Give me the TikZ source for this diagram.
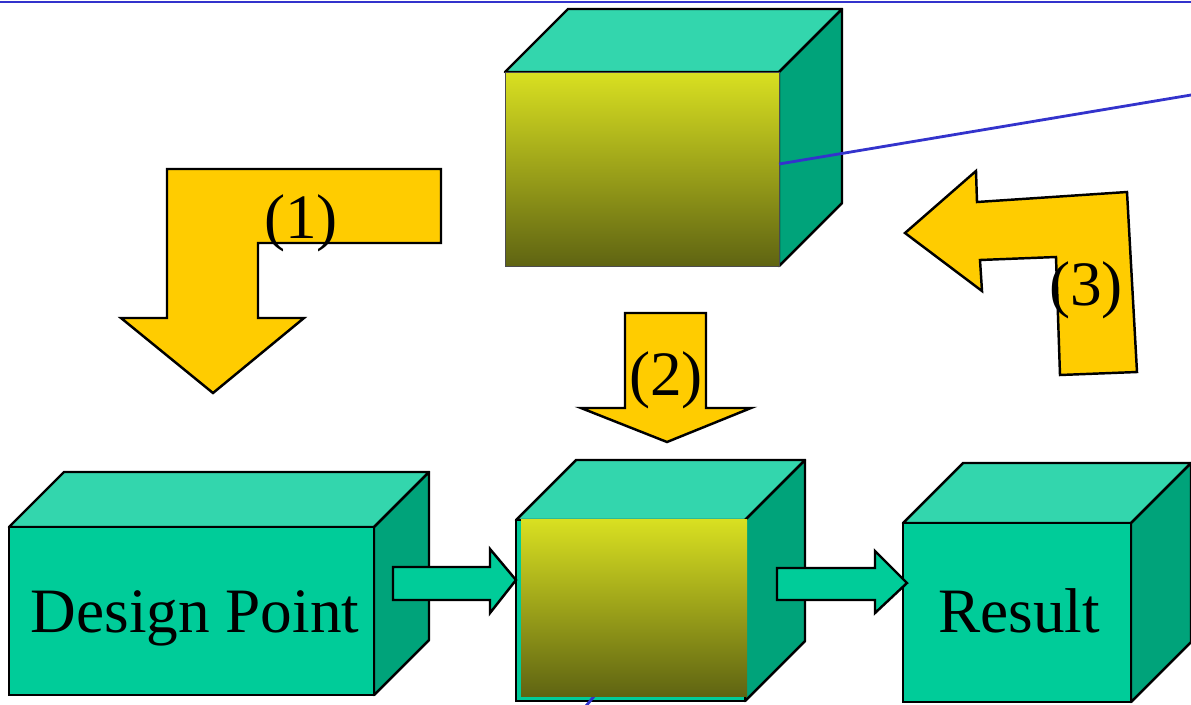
\documentclass[tikz,border=0pt]{standalone}
\usepackage{fontspec}
\setmainfont{Liberation Serif}
\usetikzlibrary{positioning}

\definecolor{tealfront}{HTML}{00CC99}
\definecolor{tealtop}{HTML}{33D6AD}
\definecolor{tealside}{HTML}{00A37A}
\definecolor{gold}{HTML}{FFCC00}
\definecolor{lineblue}{HTML}{3333CC}
\definecolor{chiptop}{HTML}{D9E021}
\definecolor{chipmid}{HTML}{B6BD24}
\definecolor{chipbottom}{HTML}{5F6412}

\tikzset{
  front/.style={draw=black,line width=1.4pt,fill=tealfront},
  topface/.style={draw=black,line width=1.4pt,fill=tealtop,line join=round},
  sideface/.style={draw=black,line width=1.4pt,fill=tealside,line join=round},
  gradface/.style={top color=chiptop,middle color=chipmid,bottom color=chipbottom},
  bigarrow/.style={draw=black,line width=1.4pt,fill=gold},
  flowarrow/.style={draw=black,line width=1.4pt,fill=tealfront},
  bigtext/.style={font=\fontsize{36}{40}\selectfont,inner sep=0pt,anchor=base},
  wire/.style={draw=lineblue,line width=1.6pt},
}

% cube: front corners (#1,#2)-(#3,#4), depth #5, front style #6
\newcommand{\cubebox}[6]{%
  \draw[topface] (#1,#2) -- ++(#5,-#5) -- (#3+#5,#2-#5) -- (#3,#2) -- cycle;
  \draw[sideface] (#3,#2) -- (#3+#5,#2-#5) -- (#3+#5,#4-#5) -- (#3,#4) -- cycle;
  \path[#6] (#1,#2) rectangle (#3,#4);
}

\begin{document}
\begin{tikzpicture}[x=0.02cm,y=-0.02cm]
\useasboundingbox (0,0) rectangle (1191,704);

% rule at the top
\draw[wire] (0,2) -- (1191,2);

% top cube
\cubebox{505}{72}{779}{266}{63}{gradface,draw=gray!60!black,line width=0.4pt}
\coordinate (chipport) at (779,164);
\coordinate (wireend) at (1191,95);
\draw[wire] (chipport) -- (wireend);

% bent arrow (1)
\draw[bigarrow] (167,169) -- (441,169) -- (441,243) -- (258,243) -- (258,318)
  -- (304,318) -- (213,393) -- (121,318) -- (167,318) -- cycle;
\node[bigtext] (step1) at (301,238) {(1)};

% arrow (2)
\draw[bigarrow] (625,313) -- (706,313) -- (706,408) -- (751,408) -- (667,442)
  -- (581,408) -- (625,408) -- cycle;
\node[bigtext] (step2) at (666,395) {(2)};

% bent arrow (3)
\draw[bigarrow] (905,233) -- (976,171) -- (977,202) -- (1127,192) -- (1137,372)
  -- (1060,375) -- (1056,257) -- (980,260) -- (982,291) -- cycle;
\node[bigtext] (step3) at (1086,305) {(3)};

% design point cube
\cubebox{9}{527}{374}{695}{55}{front}
\node[bigtext] (design) at (195,632) {Design Point};

% middle cube
\cubebox{516}{520}{745}{701}{60}{front}
\coordinate (chipfoot) at (600,689);
\coordinate (footend) at (586,706);
\draw[wire] (chipfoot) -- (footend);
\path[gradface] (521,519) rectangle (747,696);

% result cube
\cubebox{903}{523}{1131}{702}{60}{front}
\node[bigtext] (result) at (1019,632) {Result};

% flow arrows
\draw[flowarrow] (393,567) -- (490,567) -- (490,549) -- (516,580) -- (490,613)
  -- (490,600) -- (393,600) -- cycle;
\draw[flowarrow] (777,568) -- (875,568) -- (875,551) -- (907,583) -- (875,613)
  -- (875,600) -- (777,600) -- cycle;
\end{tikzpicture}
\end{document}
